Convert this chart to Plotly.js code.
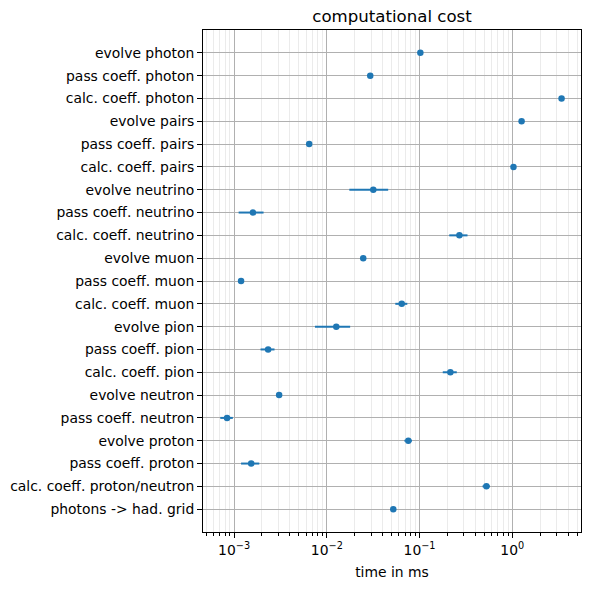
<!DOCTYPE html>
<html>
<head>
<meta charset="utf-8">
<script src="https://cdn.plot.ly/plotly-3.0.1.min.js"></script>
<style>html,body{margin:0;padding:0;background:#fff;}#chart{width:590px;height:590px;}</style>
</head>
<body>
<div id="chart"></div>
<script>
// categories listed bottom to top
const categories = [
  "photons -> had. grid",
  "calc. coeff. proton/neutron",
  "pass coeff. proton",
  "evolve proton",
  "pass coeff. neutron",
  "evolve neutron",
  "calc. coeff. pion",
  "pass coeff. pion",
  "evolve pion",
  "calc. coeff. muon",
  "pass coeff. muon",
  "evolve muon",
  "calc. coeff. neutrino",
  "pass coeff. neutrino",
  "evolve neutrino",
  "calc. coeff. pairs",
  "pass coeff. pairs",
  "evolve pairs",
  "calc. coeff. photon",
  "pass coeff. photon",
  "evolve photon"
];
const meanTime = [
  0.0521, 0.526, 0.00153, 0.0757, 0.00084, 0.00306, 0.215, 0.00233, 0.01265,
  0.0643, 0.00119, 0.0247, 0.269, 0.0016, 0.0317, 1.03, 0.00646, 1.26, 3.40,
  0.0294, 0.102
];
const stdTime = [
  0.0005, 0.048, 0.00034, 0.007, 0.00013, 0.00002, 0.037, 0.0004, 0.0052,
  0.0095, 0.00006, 0.0003, 0.06, 0.00048, 0.0142, 0.005, 0.00005, 0.01, 0.01,
  0.0003, 0.001
];
const tickVals = [0.001, 0.01, 0.1, 1];
const tickText = ["10<sup>\u22123</sup>", "10<sup>\u22122</sup>", "10<sup>\u22121</sup>", "10<sup>0</sup>"];
const decades = [0.0001, 0.001, 0.01, 0.1, 1];
const minorDigits = [2, 3, 4, 5, 6, 7, 8, 9];
const minorVals = [];
decades.forEach(d => minorDigits.forEach(m => minorVals.push(d * m)));

const trace = {
  type: "scatter",
  mode: "markers",
  x: meanTime,
  y: categories,
  marker: {color: "#1f77b4", size: 6.5},
  error_x: {type: "data", array: stdTime, visible: true, color: "#1f77b4", thickness: 2, width: 0},
  hoverinfo: "x+y"
};

const font = {family: "DejaVu Sans, sans-serif", size: 13.9, color: "#000"};
const layout = {
  width: 590, height: 590,
  margin: {l: 203, r: 9, t: 30, b: 58},
  paper_bgcolor: "#fff", plot_bgcolor: "#fff",
  font: font,
  showlegend: false,
  title: {text: "computational cost", font: {family: "DejaVu Sans, sans-serif", size: 16.6, color: "#000"}, x: 0.5 + (203 - 9) / 2 / 590, xanchor: "center", y: 1 - 16 / 590, yanchor: "middle"},
  xaxis: {
    type: "log",
    range: [-3.335, 0.741],
    tickvals: tickVals, ticktext: tickText,
    ticks: "outside", ticklen: 5, tickcolor: "#000", tickwidth: 1,
    showline: true, linecolor: "#000", linewidth: 1, mirror: true,
    showgrid: true, gridcolor: "#b0b0b0", gridwidth: 1,
    minor: {tickmode: "array", tickvals: minorVals, showgrid: true, gridcolor: "#ebebeb", gridwidth: 1, ticks: "outside", ticklen: 3, tickcolor: "#000"},
    zeroline: false,
    tickfont: font,
    title: {text: "time in ms", font: font, standoff: 10},
    automargin: false
  },
  yaxis: {
    type: "category",
    categoryorder: "array", categoryarray: categories,
    range: [-1, 21],
    ticks: "outside", ticklen: 5, tickcolor: "#000", tickwidth: 1,
    showline: true, linecolor: "#000", linewidth: 1, mirror: true,
    showgrid: true, gridcolor: "#b0b0b0", gridwidth: 1,
    zeroline: false,
    tickfont: font,
    automargin: false
  }
};
Plotly.newPlot("chart", [trace], layout, {displayModeBar: false, staticPlot: true});
</script>
</body>
</html>
